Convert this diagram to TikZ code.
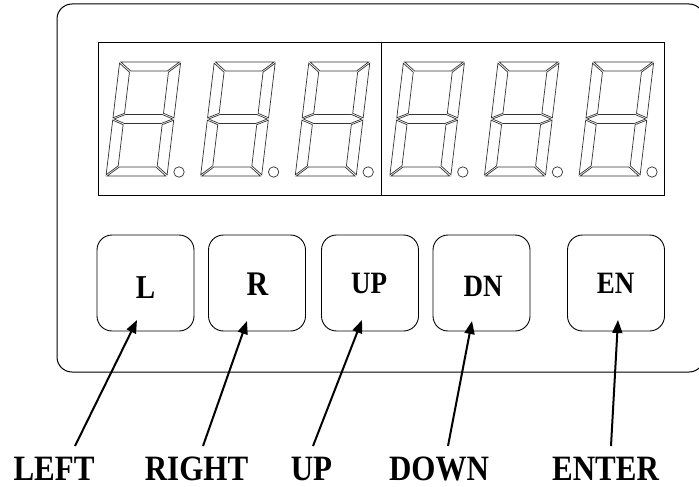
\documentclass[tikz,border=0pt]{standalone}
\usepackage{fontspec}
\usepackage{graphicx}
\setmainfont{Liberation Serif}
\usetikzlibrary{arrows.meta}
\newcommand{\segdigit}[1]{%
  \begin{scope}[shift={(#1-73,176)},y=1pt,xslant=0.12]
    \draw[segline] (1.2,114) -- (59.8,114) -- (48.8,105) -- (12.2,105) -- cycle;
    \draw[segline] (61,112.8) -- (50,103.8) -- (50,62.7) -- (61,58.2) -- cycle;
    \draw[segline] (0,112.8) -- (11,103.8) -- (11,62.7) -- (0,58.2) -- cycle;
    \draw[segline] (1.2,57) -- (12.2,61.5) -- (48.8,61.5) -- (59.8,57) -- (48.8,52.5) -- (12.2,52.5) -- cycle;
    \draw[segline] (0,55.8) -- (11,51.3) -- (11,10.2) -- (0,1.2) -- cycle;
    \draw[segline] (61,55.8) -- (50,51.3) -- (50,10.2) -- (61,1.2) -- cycle;
    \draw[segline] (1.2,0) -- (59.8,0) -- (48.8,9) -- (12.2,9) -- cycle;
  \end{scope}
  \draw[segline] (#1,172) circle (5.2);
}
\newcommand{\tallt}[1]{\scalebox{1}[1.15]{#1}}
\begin{document}
\begin{tikzpicture}[x=1pt,y=-1pt,
  frame/.style={line width=1pt,rounded corners=15pt},
  panel/.style={line width=1pt},
  segline/.style={line width=0.7pt,draw=black!80},
  btn/.style={draw,line width=0.9pt,rounded corners=15pt,minimum width=97pt,minimum height=96pt,inner sep=0pt},
  btxt/.style={font=\fontsize{27}{27}\selectfont\bfseries,inner sep=0pt},
  lbl/.style={font=\fontsize{31}{31}\selectfont\bfseries,inner sep=0pt,anchor=base},
  arr/.style={line width=2pt,-{Triangle[length=13pt,width=10pt]}}
]
\useasboundingbox (0,0) rectangle (699,487);
\clip (0,0) rectangle (699,487);
\fill[white] (0,0) rectangle (699,487);
% outer frame
\draw[frame] (57,4) rectangle (704,372);
% display window
\draw[panel] (98,43) rectangle (664,195);
\draw[panel] (381,43) -- (381,195);
% digits
\segdigit{179}
\segdigit{273.6}
\segdigit{368.2}
\segdigit{462.8}
\segdigit{557.4}
\segdigit{652}
% buttons
\node[btn] (bL) at (145.5,283) {};
\node[btn] (bR) at (257,283) {};
\node[btn] (bU) at (370,283) {};
\node[btn] (bD) at (481.5,283) {};
\node[btn] (bE) at (616,283) {};
\node[btxt,font=\fontsize{29}{29}\selectfont\bfseries] (tL) at (145.5,287.5) {\tallt{L}};
\node[btxt,font=\fontsize{30}{30}\selectfont\bfseries] (tR) at (257.5,284.5) {\tallt{R}};
\node[btxt] (tU) at (369,283) {\tallt{UP}};
\node[btxt] (tD) at (483,286) {\tallt{DN}};
\node[btxt] (tE) at (615.5,283) {\tallt{EN}};
% bottom labels
\node[lbl] (lL) at (54,480) {\tallt{LEFT}};
\node[lbl] (lR) at (196.5,480) {\tallt{RIGHT}};
\node[lbl] (lU) at (311.5,480) {\tallt{UP}};
\node[lbl] (lD) at (439,480) {\tallt{DOWN}};
\node[lbl] (lE) at (605.5,480) {\tallt{ENTER}};
% arrow ends
\coordinate (aL) at (75,446);   \coordinate (pL) at (137,320);
\coordinate (aR) at (203,446);  \coordinate (pR) at (247,321);
\coordinate (aU) at (313,446);  \coordinate (pU) at (362,320);
\coordinate (aD) at (448,446);  \coordinate (pD) at (472,321);
\coordinate (aE) at (611,446);  \coordinate (pE) at (618,320);
\draw[arr] (aL) -- (pL);
\draw[arr] (aR) -- (pR);
\draw[arr] (aU) -- (pU);
\draw[arr] (aD) -- (pD);
\draw[arr] (aE) -- (pE);
\end{tikzpicture}
\end{document}
